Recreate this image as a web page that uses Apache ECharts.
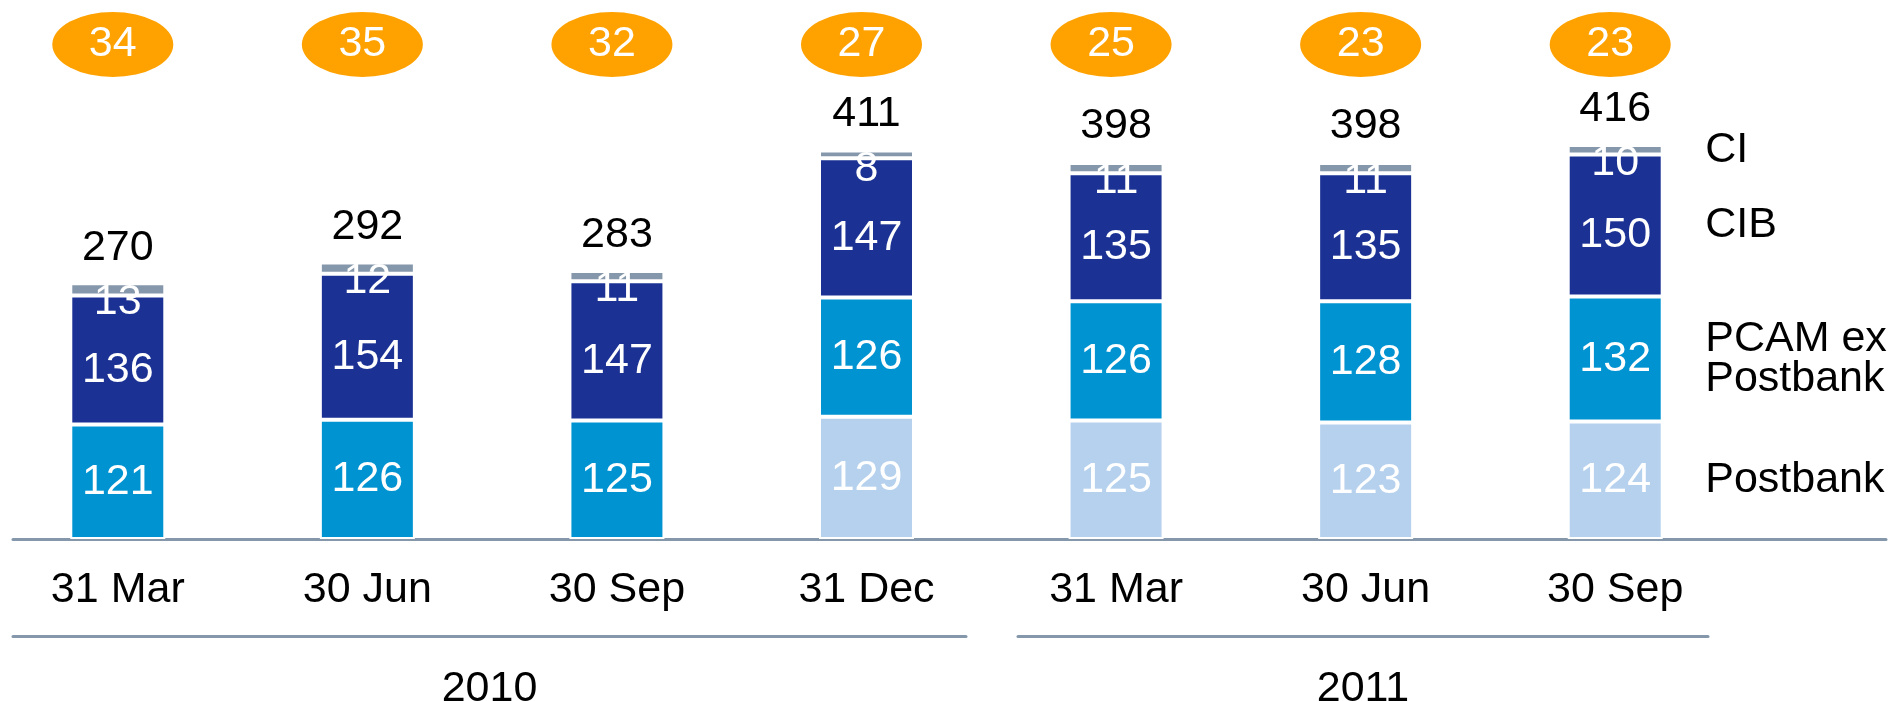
<!DOCTYPE html>
<html>
<head>
<meta charset="utf-8">
<script src="https://cdn.jsdelivr.net/npm/echarts@6/dist/echarts.min.js"></script>
<style>
  html, body { margin: 0; padding: 0; background: #fff; overflow: hidden; }
  /* chart starts 7px left of the page so the first band can sit where it does in the original */
  #chart { position: absolute; left: -7px; top: 0; width: 1897px; height: 701px; }
</style>
</head>
<body>
<div id="chart"></div>
<script>
const categories = ['31 Mar', '30 Jun', '30 Sep', '31 Dec', '31 Mar', '30 Jun', '30 Sep'];
const postbank = [null, null, null, 129, 125, 123, 124];
const pcamExPostbank = [121, 126, 125, 126, 126, 128, 132];
const cib = [136, 154, 147, 147, 135, 135, 150];
const ci = [13, 12, 11, 8, 11, 11, 10];
const totals = [270, 292, 283, 411, 398, 398, 416];
const ratios = [34, 35, 32, 27, 25, 23, 23];
const years = ['2010', '2011'];
const segmentNames = ['Postbank', 'PCAM ex\nPostbank', 'CIB', 'CI'];

const FONT = 'Liberation Sans, Arial, sans-serif';
const FS = 43;
const RULE = '#8497ab';

const chart = echarts.init(document.getElementById('chart'));

const segment = (name, data, color, labelExtra) => ({
  name,
  type: 'bar',
  stack: 'total',
  barWidth: 95,
  itemStyle: { color, borderColor: '#fff', borderWidth: 2 },
  label: {
    show: true,
    position: 'inside',
    color: '#fff',
    fontFamily: FONT,
    fontSize: FS,
    ...labelExtra
  },
  data: data.map(v => (v == null ? '-' : v))
});

// right-side names sit at the middle of each segment of the last bar
const last = categories.length - 1;
let base = 0;
const nameMarks = [postbank, pcamExPostbank, cib, ci].map((arr, k) => {
  const v = arr[last] || 0;
  const mid = base + v / 2;
  base += v;
  return { value: [last, mid], name: segmentNames[k] };
});

const hidden = { show: false };

// thin grids that only carry a rule line (baseline and year groups)
const ruleAxis = (gridIndex, name) => ({
  gridIndex,
  type: 'value',
  min: 0,
  max: 1,
  splitLine: hidden,
  axisTick: hidden,
  axisLabel: hidden,
  axisLine: { show: true, lineStyle: { color: RULE, width: 3 } },
  name,
  nameLocation: 'middle',
  nameGap: 31,
  nameTextStyle: { color: '#000', fontFamily: FONT, fontSize: FS }
});

const option = {
  animation: false,
  textStyle: { fontFamily: FONT },
  grid: [
    { left: 0, right: 150, top: 0, bottom: 162 },
    { left: 0, right: 150, top: 12, height: 65 },
    { left: 20, right: 4, top: 537, height: 2 },
    { left: 20, right: 924, top: 636, height: 2 },
    { left: 1025, right: 182, top: 636, height: 2 }
  ],
  xAxis: [
    {
      gridIndex: 0,
      type: 'category',
      data: categories,
      axisLine: hidden,
      axisTick: hidden,
      axisLabel: { color: '#000', fontFamily: FONT, fontSize: FS, margin: 30 }
    },
    { gridIndex: 1, type: 'category', data: categories, show: false },
    ruleAxis(2, ''),
    ruleAxis(3, years[0]),
    ruleAxis(4, years[1])
  ],
  yAxis: [
    { gridIndex: 0, type: 'value', min: 0, max: 569, show: false },
    { gridIndex: 1, type: 'value', min: -1, max: 1, show: false },
    { gridIndex: 2, type: 'value', show: false },
    { gridIndex: 3, type: 'value', show: false },
    { gridIndex: 4, type: 'value', show: false }
  ],
  series: [
    segment('Postbank', postbank, '#b5d1ee'),
    segment('PCAM ex Postbank', pcamExPostbank, '#0093d1'),
    segment('CIB', cib, '#1b3294', { offset: [0, 10] }),
    segment('CI', ci, '#8497ab', { position: 'insideTop', distance: -3 }),
    {
      name: 'Total',
      type: 'scatter',
      symbolSize: 0,
      itemStyle: { opacity: 1 },
      label: {
        show: true,
        position: 'top',
        distance: 14,
        color: '#000',
        fontFamily: FONT,
        fontSize: FS,
        formatter: p => p.value[1]
      },
      data: totals.map((v, i) => [i, v])
    },
    {
      name: 'Names',
      type: 'scatter',
      symbolSize: 0,
      itemStyle: { opacity: 1 },
      label: {
        show: true,
        position: 'right',
        distance: 90,
        color: '#000',
        fontFamily: FONT,
        fontSize: FS,
        lineHeight: 40,
        formatter: p => p.name
      },
      data: nameMarks
    },
    {
      name: 'Ratio',
      type: 'scatter',
      xAxisIndex: 1,
      yAxisIndex: 1,
      symbol: 'circle',
      symbolSize: [121, 65],
      symbolOffset: [-5, 0],
      itemStyle: { color: '#ffa200', opacity: 1 },
      label: {
        show: true,
        position: 'inside',
        color: '#fff',
        fontFamily: FONT,
        fontSize: FS,
        formatter: p => ratios[p.dataIndex]
      },
      data: ratios.map((v, i) => [i, 0])
    }
  ]
};

chart.setOption(option);
</script>
</body>
</html>
